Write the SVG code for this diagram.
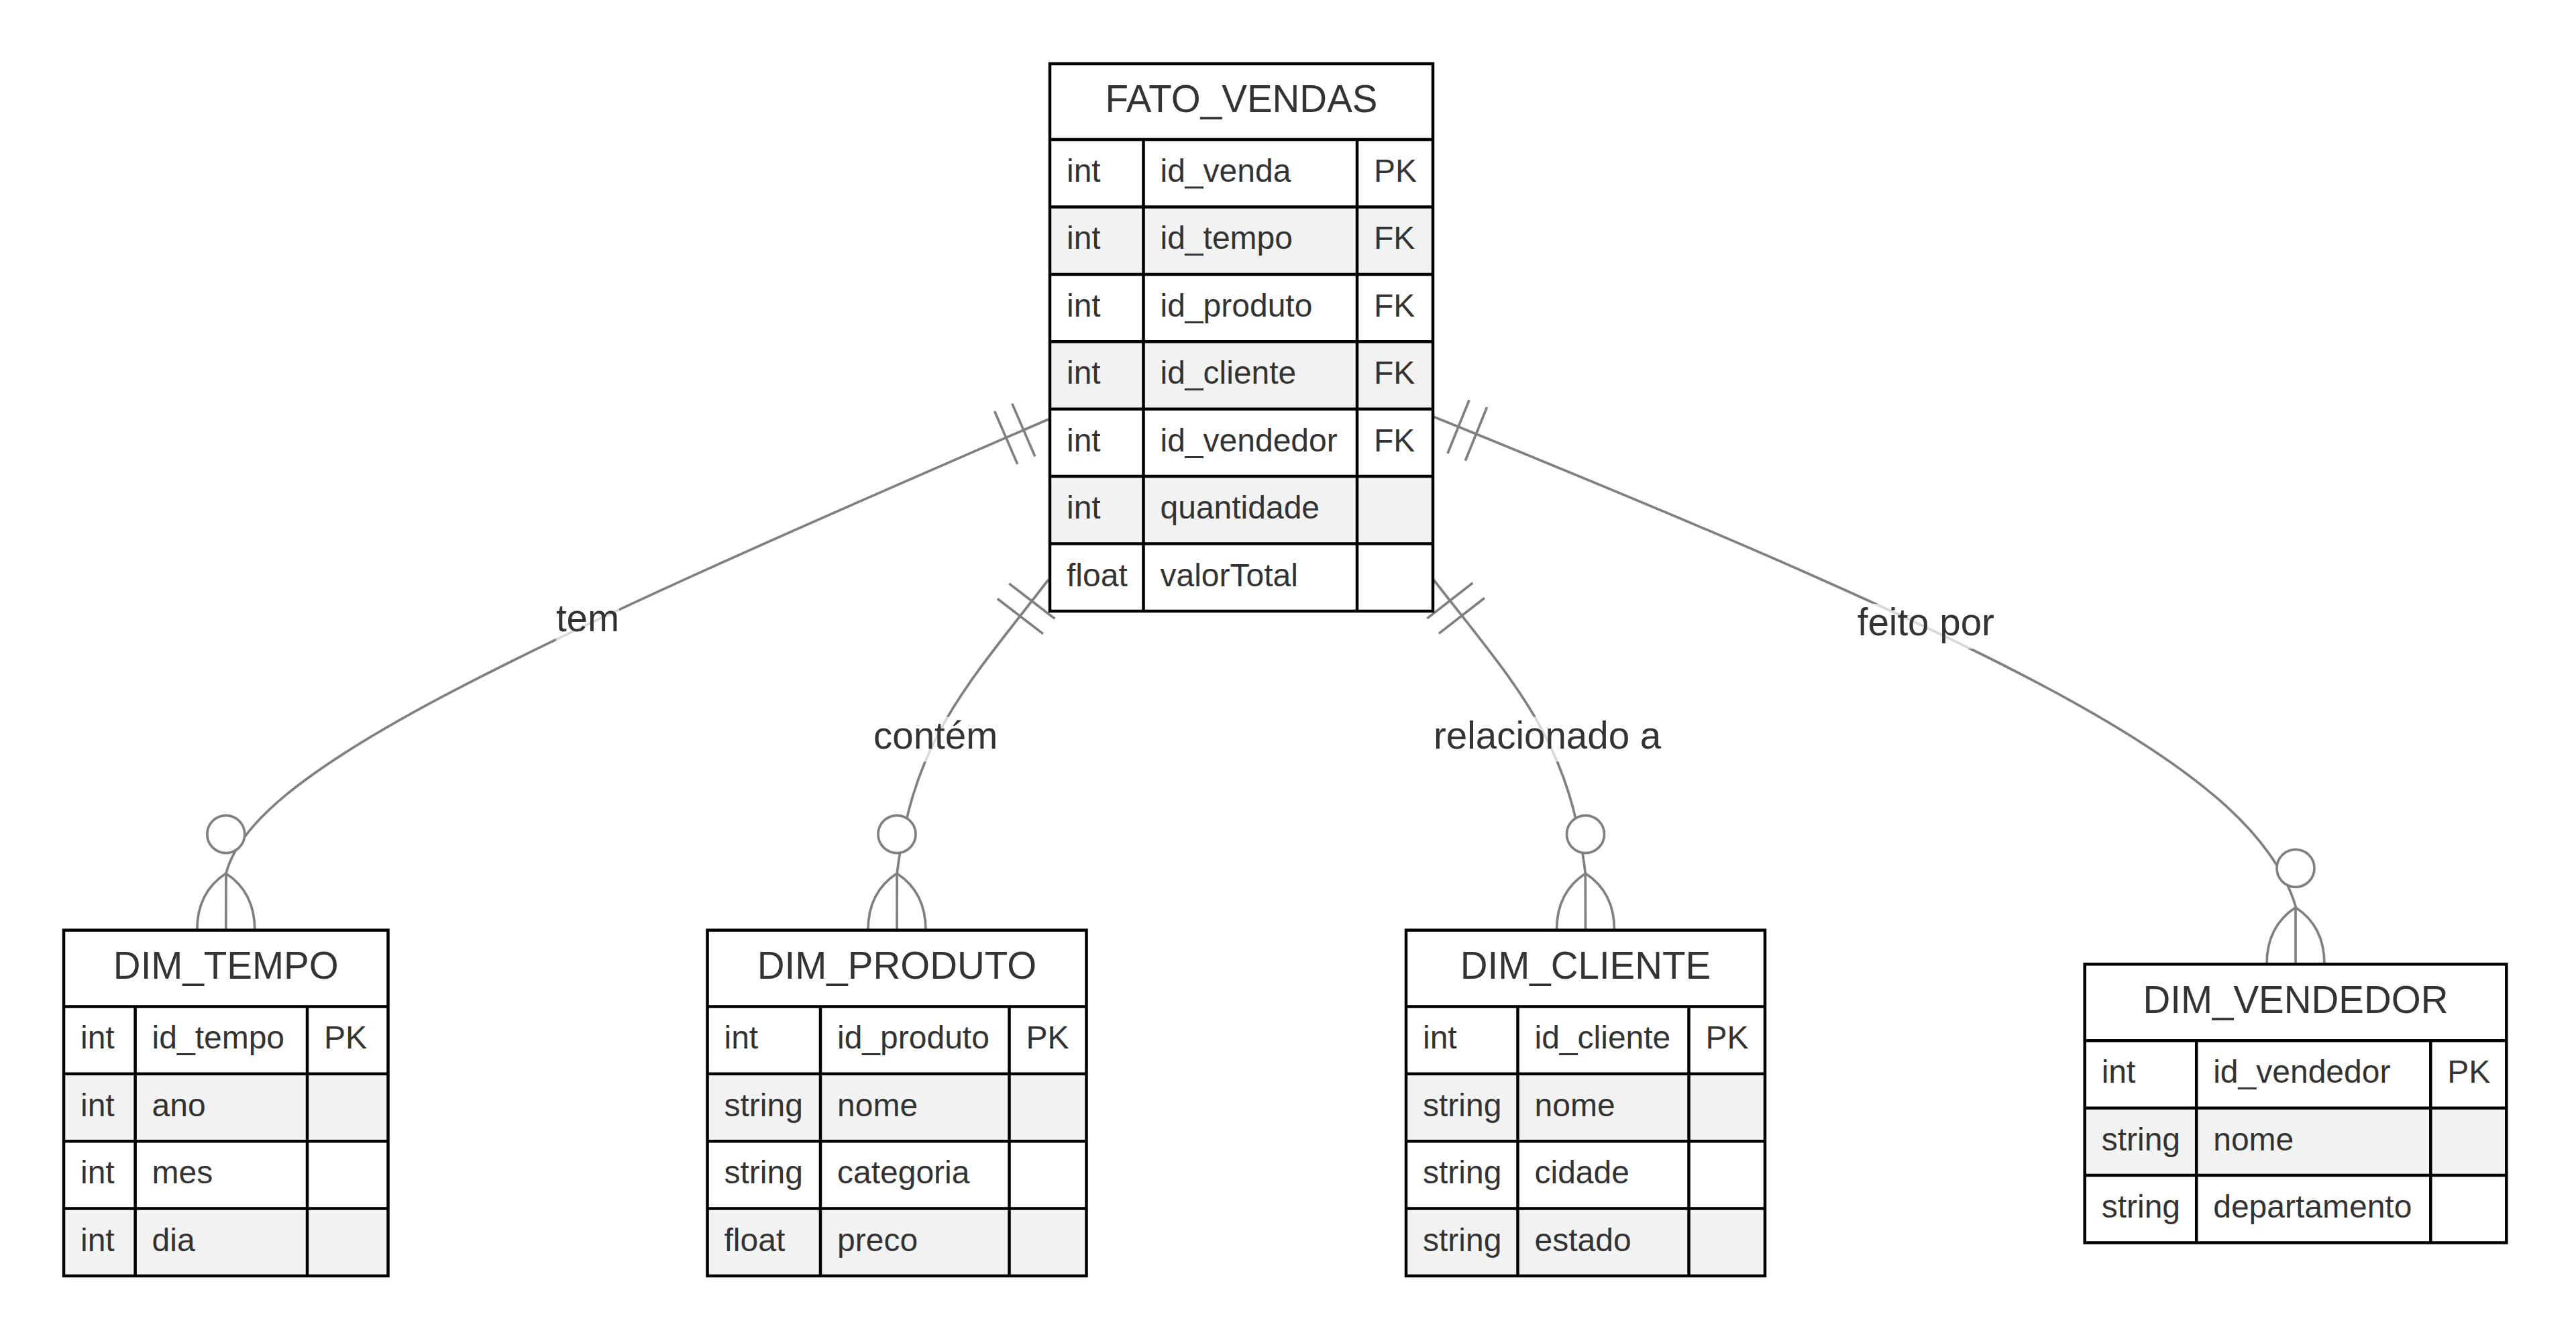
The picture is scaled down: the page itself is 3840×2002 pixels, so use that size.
<svg xmlns="http://www.w3.org/2000/svg" xmlns:xlink="http://www.w3.org/1999/xlink" width="3840" height="2002" viewBox="0 0 3840 2002">
<defs>
<style>
.bg{fill:#ffffff}
.hdr{fill:#ffffff}
.odd{fill:#ffffff}
.even{fill:#f2f2f2}
.frame{fill:none;stroke:#000000;stroke-width:4.5}
.ln{stroke:#000000;stroke-width:4.5}
.t{font-family:"Liberation Sans",Arial,Helvetica,sans-serif;fill:#333333}
.h{font-size:56.5px;text-anchor:middle}
.r{font-size:48px}
.edge{fill:none;stroke:#808080;stroke-width:3.7}
.ring{fill:#ffffff;stroke:#808080;stroke-width:3.7}
.lblbg{fill:#ffffff;opacity:0.7}
.lbl{font-size:56.5px;text-anchor:middle}
</style>
<g id="one"><path class="edge" d="M40.5,-43 V43 M69,-43 V43"/></g>
<g id="many"><path class="edge" d="M0,-84.6 Q-43,-56.6 -43,0 M0,-84.6 Q43,-56.6 43,0"/><circle class="ring" cx="0" cy="-143" r="28"/></g>
</defs>
<rect class="bg" x="0" y="0" width="3840" height="2002"/>

<g id="connectors">
<path id="e-tem" class="edge" d="M1563,625 C736.3,982.3 375.5,1152 337,1302 L336.8,1386.6"/>
<path id="e-contem" class="edge" d="M1563,864 C1440.7,1022.6 1361.5,1102 1337.2,1302 L1337,1386.6"/>
<path id="e-relacionado" class="edge" d="M2136.5,863.5 C2259.8,1022.1 2339,1102 2363.3,1302 L2363.5,1386.6"/>
<path id="e-feito" class="edge" d="M2136.5,621 C3016.7,977.25 3362,1151 3422,1351 L3422,1437.3"/>
<use xlink:href="#one" href="#one" transform="translate(1563,625) rotate(156.6)"/>
<use xlink:href="#one" href="#one" transform="translate(1563,864) rotate(127.6)"/>
<use xlink:href="#one" href="#one" transform="translate(2136.5,863.5) rotate(52.1)"/>
<use xlink:href="#one" href="#one" transform="translate(2136.5,621) rotate(22)"/>
<use xlink:href="#many" href="#many" transform="translate(336.8,1386.6)"/>
<use xlink:href="#many" href="#many" transform="translate(1337,1386.6)"/>
<use xlink:href="#many" href="#many" transform="translate(2363.5,1386.6)"/>
<use xlink:href="#many" href="#many" transform="translate(3422,1437.3)"/>
<rect class="lblbg" x="829" y="893.5" width="94" height="67"/>
<text class="t lbl" x="876" y="941">tem</text>
<rect class="lblbg" x="1303" y="1068.5" width="183" height="67"/>
<text class="t lbl" x="1394.6" y="1116">contém</text>
<rect class="lblbg" x="2136" y="1068.5" width="341" height="67"/>
<text class="t lbl" x="2306.6" y="1116">relacionado a</text>
<rect class="lblbg" x="2768" y="900" width="205" height="67"/>
<text class="t lbl" x="2870.8" y="947">feito por</text>
</g>

<g id="FATO_VENDAS">
<rect class="hdr" x="1565" y="95" width="571" height="113"/>
<rect class="odd" x="1565" y="208" width="571" height="100.4"/>
<rect class="even" x="1565" y="308.4" width="571" height="100.5"/>
<rect class="odd" x="1565" y="408.9" width="571" height="100.4"/>
<rect class="even" x="1565" y="509.3" width="571" height="100.4"/>
<rect class="odd" x="1565" y="609.7" width="571" height="100.4"/>
<rect class="even" x="1565" y="710.1" width="571" height="100.5"/>
<rect class="odd" x="1565" y="810.6" width="571" height="100.4"/>
<rect class="frame" x="1565" y="95" width="571" height="816"/>
<path class="ln" d="M1565,208 H2136 M1565,308.4 H2136 M1565,408.9 H2136 M1565,509.3 H2136 M1565,609.7 H2136 M1565,710.1 H2136 M1565,810.6 H2136 M1704.5,208 V911 M2023,208 V911"/>
<text class="t h" x="1850.5" y="167">FATO_VENDAS</text>
<text class="t r" x="1590" y="271">int</text><text class="t r" x="1729.5" y="271">id_venda</text><text class="t r" x="2048" y="271">PK</text>
<text class="t r" x="1590" y="371.4">int</text><text class="t r" x="1729.5" y="371.4">id_tempo</text><text class="t r" x="2048" y="371.4">FK</text>
<text class="t r" x="1590" y="471.9">int</text><text class="t r" x="1729.5" y="471.9">id_produto</text><text class="t r" x="2048" y="471.9">FK</text>
<text class="t r" x="1590" y="572.3">int</text><text class="t r" x="1729.5" y="572.3">id_cliente</text><text class="t r" x="2048" y="572.3">FK</text>
<text class="t r" x="1590" y="672.7">int</text><text class="t r" x="1729.5" y="672.7">id_vendedor</text><text class="t r" x="2048" y="672.7">FK</text>
<text class="t r" x="1590" y="773.1">int</text><text class="t r" x="1729.5" y="773.1">quantidade</text>
<text class="t r" x="1590" y="873.6">float</text><text class="t r" x="1729.5" y="873.6">valorTotal</text>
</g>

<g id="DIM_TEMPO">
<rect class="hdr" x="95" y="1386.6" width="483.5" height="113.8"/>
<rect class="odd" x="95" y="1500.4" width="483.5" height="100.4"/>
<rect class="even" x="95" y="1600.8" width="483.5" height="100.4"/>
<rect class="odd" x="95" y="1701.2" width="483.5" height="100.4"/>
<rect class="even" x="95" y="1801.6" width="483.5" height="100.4"/>
<rect class="frame" x="95" y="1386.6" width="483.5" height="515.4"/>
<path class="ln" d="M95,1500.4 H578.5 M95,1600.8 H578.5 M95,1701.2 H578.5 M95,1801.6 H578.5 M201.6,1500.4 V1902 M458,1500.4 V1902"/>
<text class="t h" x="336.8" y="1458.8">DIM_TEMPO</text>
<text class="t r" x="120" y="1563.4">int</text><text class="t r" x="226.6" y="1563.4">id_tempo</text><text class="t r" x="483" y="1563.4">PK</text>
<text class="t r" x="120" y="1663.8">int</text><text class="t r" x="226.6" y="1663.8">ano</text>
<text class="t r" x="120" y="1764.2">int</text><text class="t r" x="226.6" y="1764.2">mes</text>
<text class="t r" x="120" y="1864.6">int</text><text class="t r" x="226.6" y="1864.6">dia</text>
</g>

<g id="DIM_PRODUTO">
<rect class="hdr" x="1054.5" y="1386.6" width="565" height="113.8"/>
<rect class="odd" x="1054.5" y="1500.4" width="565" height="100.4"/>
<rect class="even" x="1054.5" y="1600.8" width="565" height="100.4"/>
<rect class="odd" x="1054.5" y="1701.2" width="565" height="100.4"/>
<rect class="even" x="1054.5" y="1801.6" width="565" height="100.4"/>
<rect class="frame" x="1054.5" y="1386.6" width="565" height="515.4"/>
<path class="ln" d="M1054.5,1500.4 H1619.5 M1054.5,1600.8 H1619.5 M1054.5,1701.2 H1619.5 M1054.5,1801.6 H1619.5 M1223,1500.4 V1902 M1504.5,1500.4 V1902"/>
<text class="t h" x="1337" y="1458.8">DIM_PRODUTO</text>
<text class="t r" x="1079.5" y="1563.4">int</text><text class="t r" x="1248" y="1563.4">id_produto</text><text class="t r" x="1529.5" y="1563.4">PK</text>
<text class="t r" x="1079.5" y="1663.8">string</text><text class="t r" x="1248" y="1663.8">nome</text>
<text class="t r" x="1079.5" y="1764.2">string</text><text class="t r" x="1248" y="1764.2">categoria</text>
<text class="t r" x="1079.5" y="1864.6">float</text><text class="t r" x="1248" y="1864.6">preco</text>
</g>

<g id="DIM_CLIENTE">
<rect class="hdr" x="2096" y="1386.6" width="535" height="113.8"/>
<rect class="odd" x="2096" y="1500.4" width="535" height="100.4"/>
<rect class="even" x="2096" y="1600.8" width="535" height="100.4"/>
<rect class="odd" x="2096" y="1701.2" width="535" height="100.4"/>
<rect class="even" x="2096" y="1801.6" width="535" height="100.4"/>
<rect class="frame" x="2096" y="1386.6" width="535" height="515.4"/>
<path class="ln" d="M2096,1500.4 H2631 M2096,1600.8 H2631 M2096,1701.2 H2631 M2096,1801.6 H2631 M2262.5,1500.4 V1902 M2517.5,1500.4 V1902"/>
<text class="t h" x="2363.5" y="1458.8">DIM_CLIENTE</text>
<text class="t r" x="2121" y="1563.4">int</text><text class="t r" x="2287.5" y="1563.4">id_cliente</text><text class="t r" x="2542.5" y="1563.4">PK</text>
<text class="t r" x="2121" y="1663.8">string</text><text class="t r" x="2287.5" y="1663.8">nome</text>
<text class="t r" x="2121" y="1764.2">string</text><text class="t r" x="2287.5" y="1764.2">cidade</text>
<text class="t r" x="2121" y="1864.6">string</text><text class="t r" x="2287.5" y="1864.6">estado</text>
</g>

<g id="DIM_VENDEDOR">
<rect class="hdr" x="3107.7" y="1437.3" width="628.6" height="114"/>
<rect class="odd" x="3107.7" y="1551.3" width="628.6" height="100.4"/>
<rect class="even" x="3107.7" y="1651.7" width="628.6" height="100.4"/>
<rect class="odd" x="3107.7" y="1752.1" width="628.6" height="100.4"/>
<rect class="frame" x="3107.7" y="1437.3" width="628.6" height="415.2"/>
<path class="ln" d="M3107.7,1551.3 H3736.3 M3107.7,1651.7 H3736.3 M3107.7,1752.1 H3736.3 M3274.2,1551.3 V1852.5 M3623.3,1551.3 V1852.5"/>
<text class="t h" x="3422" y="1509.8">DIM_VENDEDOR</text>
<text class="t r" x="3132.7" y="1614.3">int</text><text class="t r" x="3299.2" y="1614.3">id_vendedor</text><text class="t r" x="3648.3" y="1614.3">PK</text>
<text class="t r" x="3132.7" y="1714.7">string</text><text class="t r" x="3299.2" y="1714.7">nome</text>
<text class="t r" x="3132.7" y="1815.1">string</text><text class="t r" x="3299.2" y="1815.1">departamento</text>
</g>
</svg>
